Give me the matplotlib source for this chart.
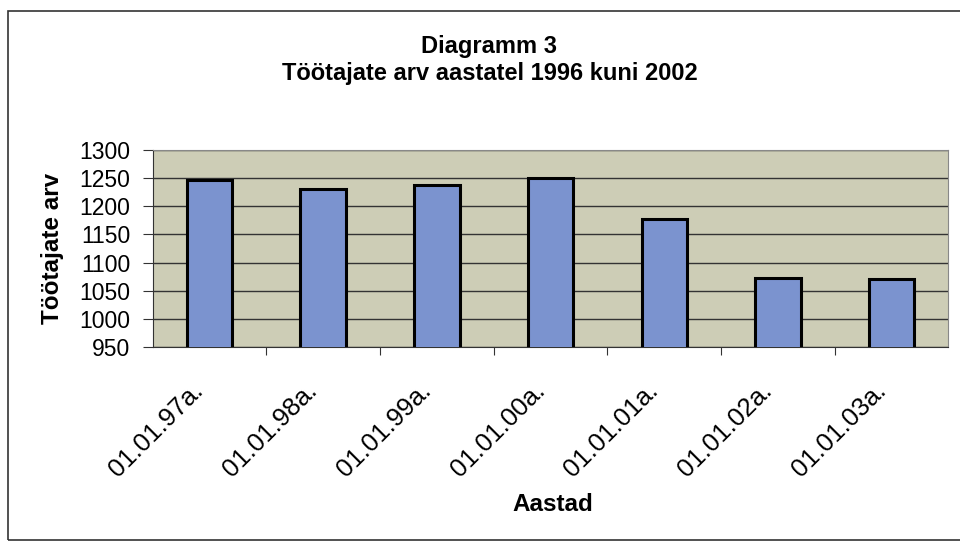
import matplotlib.pyplot as plt
from matplotlib.patches import Rectangle
from matplotlib.transforms import ScaledTranslation

plt.rcParams['font.family'] = ['Liberation Sans', 'DejaVu Sans']

# data
labels = ['01.01.97a.', '01.01.98a.', '01.01.99a.', '01.01.00a.',
          '01.01.01a.', '01.01.02a.', '01.01.03a.']
workers = [1247, 1231, 1238, 1251, 1178, 1073, 1071]
yticks = [950, 1000, 1050, 1100, 1150, 1200, 1250, 1300]

fig = plt.figure(figsize=(9.6, 5.48), dpi=100)
fig.patch.set_facecolor('white')

# outer chart border
fig.patches.append(Rectangle((0.008, 0.015), 1.1, 0.965, transform=fig.transFigure,
                             fill=False, edgecolor='#333333', linewidth=1.2))

ax = fig.add_axes([0.159, 0.367, 0.829, 0.359])
ax.set_facecolor('#cdcdb6')

pos = list(range(len(labels)))
ax.bar(pos, workers, width=0.4, color='#7b93cf', edgecolor='black', linewidth=2.2, zorder=3)
ax.set_ylim(950, 1300)
ax.set_xlim(-0.5, len(labels) - 0.5)
ax.set_yticks(yticks)
ax.yaxis.grid(True, color='#333333', linewidth=1, zorder=0)
ax.set_axisbelow(True)

# ticks between categories, labels at centres
ax.set_xticks([p + 0.5 for p in pos[:-1]], minor=False)
ax.set_xticklabels([])
ax.set_xticks(pos, minor=True)
ax.set_xticklabels(labels, minor=True, rotation=45, ha='right', va='center',
                   rotation_mode='anchor', fontsize=18.5)
ax.tick_params(axis='x', which='minor', length=0, pad=29)
ax.tick_params(axis='x', which='major', length=6, direction='out', color='#333333')
ax.tick_params(axis='y', labelsize=16.5, length=7, direction='out', pad=9, color='#333333')

# nudge the slanted labels a little to the left, like the original
shift = ScaledTranslation(-7 / 72, 0, fig.dpi_scale_trans)
for lab in ax.get_xticklabels(minor=True):
    lab.set_transform(lab.get_transform() + shift)

for side in ['top', 'right']:
    ax.spines[side].set_color('#888888')
ax.spines['left'].set_color('#333333')
ax.spines['bottom'].set_color('#333333')

ax.set_ylabel('Töötajate arv', fontsize=17.5, fontweight='bold')
ax.yaxis.set_label_coords(-0.112, 0.5)
fig.text(0.576, 0.079, 'Aastad', fontsize=17.5, fontweight='bold', ha='center', va='center')

fig.text(0.509, 0.916, 'Diagramm 3', fontsize=17, fontweight='bold', ha='center', va='center')
fig.text(0.510, 0.866, 'Töötajate arv aastatel 1996 kuni 2002', fontsize=17,
         fontweight='bold', ha='center', va='center')

fig.savefig('out.png', dpi=100)
